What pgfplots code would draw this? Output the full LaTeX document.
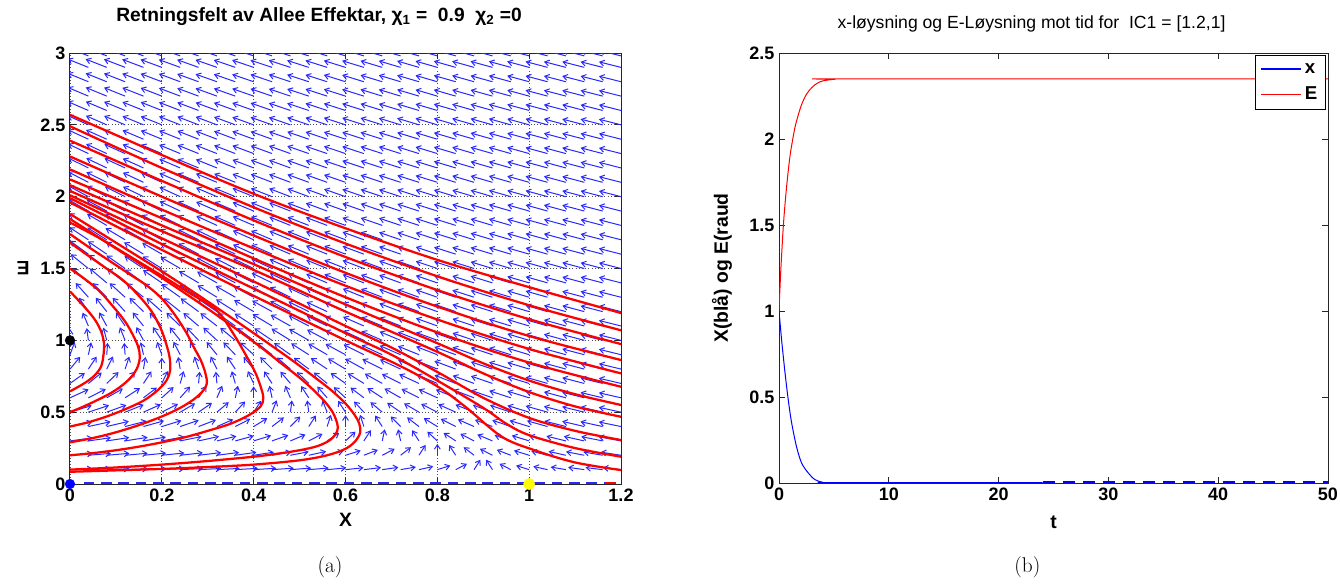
\documentclass[border=0pt]{standalone}
\usepackage{fontspec}
\usepackage{pgfplots}
\usepackage{pgfplotstable}
\pgfplotsset{compat=1.18}
\usetikzlibrary{arrows.meta}
\newfontfamily\hv{Liberation Sans}
\definecolor{qblue}{RGB}{40,40,255}
\definecolor{mred}{RGB}{255,0,0}
\definecolor{myel}{RGB}{255,255,0}

% direction field: rows of E, column g = dE-component, f0..f30 = dx-component at x = 0,0.04,...,1.2
\pgfplotstableread{
E g f0 f1 f2 f3 f4 f5 f6 f7 f8 f9 f10 f11 f12 f13 f14 f15 f16 f17 f18 f19 f20 f21 f22 f23 f24 f25 f26 f27 f28 f29 f30
0.1 0.0995 0.9 0.86 0.82 0.78 0.74 0.7 0.66 0.62 0.58 0.54 0.5 0.46 0.42 0.38 0.34 0.3 0.26 0.22 0.18 0.14 0.1 0.06 0.02 -0.02 -0.06 -0.1 -0.14 -0.18 -0.22 -0.26 -0.3
0.2 0.198 0.8 0.76 0.72 0.68 0.64 0.6 0.56 0.52 0.48 0.44 0.4 0.36 0.32 0.28 0.24 0.2 0.16 0.12 0.08 0.04 0 -0.04 -0.08 -0.12 -0.16 -0.2 -0.24 -0.28 -0.32 -0.36 -0.4
0.3 0.2955 0.7 0.66 0.62 0.58 0.54 0.5 0.46 0.42 0.38 0.34 0.3 0.26 0.22 0.18 0.14 0.1 0.06 0.02 -0.02 -0.06 -0.1 -0.14 -0.18 -0.22 -0.26 -0.3 -0.34 -0.38 -0.42 -0.46 -0.5
0.4 0.392 0.6 0.56 0.52 0.48 0.44 0.4 0.36 0.32 0.28 0.24 0.2 0.16 0.12 0.08 0.04 0 -0.04 -0.08 -0.12 -0.16 -0.2 -0.24 -0.28 -0.32 -0.36 -0.4 -0.44 -0.48 -0.52 -0.56 -0.6
0.5 0.4875 0.5 0.46 0.42 0.38 0.34 0.3 0.26 0.22 0.18 0.14 0.1 0.06 0.02 -0.02 -0.06 -0.1 -0.14 -0.18 -0.22 -0.26 -0.3 -0.34 -0.38 -0.42 -0.46 -0.5 -0.54 -0.58 -0.62 -0.66 -0.7
0.6 0.582 0.4 0.36 0.32 0.28 0.24 0.2 0.16 0.12 0.08 0.04 0 -0.04 -0.08 -0.12 -0.16 -0.2 -0.24 -0.28 -0.32 -0.36 -0.4 -0.44 -0.48 -0.52 -0.56 -0.6 -0.64 -0.68 -0.72 -0.76 -0.8
0.7 0.6755 0.3 0.26 0.22 0.18 0.14 0.1 0.06 0.02 -0.02 -0.06 -0.1 -0.14 -0.18 -0.22 -0.26 -0.3 -0.34 -0.38 -0.42 -0.46 -0.5 -0.54 -0.58 -0.62 -0.66 -0.7 -0.74 -0.78 -0.82 -0.86 -0.9
0.8 0.768 0.2 0.16 0.12 0.08 0.04 0 -0.04 -0.08 -0.12 -0.16 -0.2 -0.24 -0.28 -0.32 -0.36 -0.4 -0.44 -0.48 -0.52 -0.56 -0.6 -0.64 -0.68 -0.72 -0.76 -0.8 -0.84 -0.88 -0.92 -0.96 -1
0.9 0.8595 0.1 0.06 0.02 -0.02 -0.06 -0.1 -0.14 -0.18 -0.22 -0.26 -0.3 -0.34 -0.38 -0.42 -0.46 -0.5 -0.54 -0.58 -0.62 -0.66 -0.7 -0.74 -0.78 -0.82 -0.86 -0.9 -0.94 -0.98 -1.02 -1.06 -1.1
1.0 0.95 0 -0.04 -0.08 -0.12 -0.16 -0.2 -0.24 -0.28 -0.32 -0.36 -0.4 -0.44 -0.48 -0.52 -0.56 -0.6 -0.64 -0.68 -0.72 -0.76 -0.8 -0.84 -0.88 -0.92 -0.96 -1 -1.04 -1.08 -1.12 -1.16 -1.2
1.1 1.0395 -0.1 -0.14 -0.18 -0.22 -0.26 -0.3 -0.34 -0.38 -0.42 -0.46 -0.5 -0.54 -0.58 -0.62 -0.66 -0.7 -0.74 -0.78 -0.82 -0.86 -0.9 -0.94 -0.98 -1.02 -1.06 -1.1 -1.14 -1.18 -1.22 -1.26 -1.3
1.2 1.128 -0.2 -0.24 -0.28 -0.32 -0.36 -0.4 -0.44 -0.48 -0.52 -0.56 -0.6 -0.64 -0.68 -0.72 -0.76 -0.8 -0.84 -0.88 -0.92 -0.96 -1 -1.04 -1.08 -1.12 -1.16 -1.2 -1.24 -1.28 -1.32 -1.36 -1.4
1.3 1.2155 -0.3 -0.34 -0.38 -0.42 -0.46 -0.5 -0.54 -0.58 -0.62 -0.66 -0.7 -0.74 -0.78 -0.82 -0.86 -0.9 -0.94 -0.98 -1.02 -1.06 -1.1 -1.14 -1.18 -1.22 -1.26 -1.3 -1.34 -1.38 -1.42 -1.46 -1.5
1.4 1.302 -0.4 -0.44 -0.48 -0.52 -0.56 -0.6 -0.64 -0.68 -0.72 -0.76 -0.8 -0.84 -0.88 -0.92 -0.96 -1 -1.04 -1.08 -1.12 -1.16 -1.2 -1.24 -1.28 -1.32 -1.36 -1.4 -1.44 -1.48 -1.52 -1.56 -1.6
1.5 1.3875 -0.5 -0.54 -0.58 -0.62 -0.66 -0.7 -0.74 -0.78 -0.82 -0.86 -0.9 -0.94 -0.98 -1.02 -1.06 -1.1 -1.14 -1.18 -1.22 -1.26 -1.3 -1.34 -1.38 -1.42 -1.46 -1.5 -1.54 -1.58 -1.62 -1.66 -1.7
1.6 1.472 -0.6 -0.64 -0.68 -0.72 -0.76 -0.8 -0.84 -0.88 -0.92 -0.96 -1 -1.04 -1.08 -1.12 -1.16 -1.2 -1.24 -1.28 -1.32 -1.36 -1.4 -1.44 -1.48 -1.52 -1.56 -1.6 -1.64 -1.68 -1.72 -1.76 -1.8
1.7 1.5555 -0.7 -0.74 -0.78 -0.82 -0.86 -0.9 -0.94 -0.98 -1.02 -1.06 -1.1 -1.14 -1.18 -1.22 -1.26 -1.3 -1.34 -1.38 -1.42 -1.46 -1.5 -1.54 -1.58 -1.62 -1.66 -1.7 -1.74 -1.78 -1.82 -1.86 -1.9
1.8 1.638 -0.8 -0.84 -0.88 -0.92 -0.96 -1 -1.04 -1.08 -1.12 -1.16 -1.2 -1.24 -1.28 -1.32 -1.36 -1.4 -1.44 -1.48 -1.52 -1.56 -1.6 -1.64 -1.68 -1.72 -1.76 -1.8 -1.84 -1.88 -1.92 -1.96 -2
1.9 1.7195 -0.9 -0.94 -0.98 -1.02 -1.06 -1.1 -1.14 -1.18 -1.22 -1.26 -1.3 -1.34 -1.38 -1.42 -1.46 -1.5 -1.54 -1.58 -1.62 -1.66 -1.7 -1.74 -1.78 -1.82 -1.86 -1.9 -1.94 -1.98 -2.02 -2.06 -2.1
2.0 1.8 -1 -1.04 -1.08 -1.12 -1.16 -1.2 -1.24 -1.28 -1.32 -1.36 -1.4 -1.44 -1.48 -1.52 -1.56 -1.6 -1.64 -1.68 -1.72 -1.76 -1.8 -1.84 -1.88 -1.92 -1.96 -2 -2.04 -2.08 -2.12 -2.16 -2.2
2.1 1.8795 -1.1 -1.14 -1.18 -1.22 -1.26 -1.3 -1.34 -1.38 -1.42 -1.46 -1.5 -1.54 -1.58 -1.62 -1.66 -1.7 -1.74 -1.78 -1.82 -1.86 -1.9 -1.94 -1.98 -2.02 -2.06 -2.1 -2.14 -2.18 -2.22 -2.26 -2.3
2.2 1.958 -1.2 -1.24 -1.28 -1.32 -1.36 -1.4 -1.44 -1.48 -1.52 -1.56 -1.6 -1.64 -1.68 -1.72 -1.76 -1.8 -1.84 -1.88 -1.92 -1.96 -2 -2.04 -2.08 -2.12 -2.16 -2.2 -2.24 -2.28 -2.32 -2.36 -2.4
2.3 2.0355 -1.3 -1.34 -1.38 -1.42 -1.46 -1.5 -1.54 -1.58 -1.62 -1.66 -1.7 -1.74 -1.78 -1.82 -1.86 -1.9 -1.94 -1.98 -2.02 -2.06 -2.1 -2.14 -2.18 -2.22 -2.26 -2.3 -2.34 -2.38 -2.42 -2.46 -2.5
2.4 2.112 -1.4 -1.44 -1.48 -1.52 -1.56 -1.6 -1.64 -1.68 -1.72 -1.76 -1.8 -1.84 -1.88 -1.92 -1.96 -2 -2.04 -2.08 -2.12 -2.16 -2.2 -2.24 -2.28 -2.32 -2.36 -2.4 -2.44 -2.48 -2.52 -2.56 -2.6
2.5 2.1875 -1.5 -1.54 -1.58 -1.62 -1.66 -1.7 -1.74 -1.78 -1.82 -1.86 -1.9 -1.94 -1.98 -2.02 -2.06 -2.1 -2.14 -2.18 -2.22 -2.26 -2.3 -2.34 -2.38 -2.42 -2.46 -2.5 -2.54 -2.58 -2.62 -2.66 -2.7
2.6 2.262 -1.6 -1.64 -1.68 -1.72 -1.76 -1.8 -1.84 -1.88 -1.92 -1.96 -2 -2.04 -2.08 -2.12 -2.16 -2.2 -2.24 -2.28 -2.32 -2.36 -2.4 -2.44 -2.48 -2.52 -2.56 -2.6 -2.64 -2.68 -2.72 -2.76 -2.8
2.7 2.3355 -1.7 -1.74 -1.78 -1.82 -1.86 -1.9 -1.94 -1.98 -2.02 -2.06 -2.1 -2.14 -2.18 -2.22 -2.26 -2.3 -2.34 -2.38 -2.42 -2.46 -2.5 -2.54 -2.58 -2.62 -2.66 -2.7 -2.74 -2.78 -2.82 -2.86 -2.9
2.8 2.408 -1.8 -1.84 -1.88 -1.92 -1.96 -2 -2.04 -2.08 -2.12 -2.16 -2.2 -2.24 -2.28 -2.32 -2.36 -2.4 -2.44 -2.48 -2.52 -2.56 -2.6 -2.64 -2.68 -2.72 -2.76 -2.8 -2.84 -2.88 -2.92 -2.96 -3
2.9 2.4795 -1.9 -1.94 -1.98 -2.02 -2.06 -2.1 -2.14 -2.18 -2.22 -2.26 -2.3 -2.34 -2.38 -2.42 -2.46 -2.5 -2.54 -2.58 -2.62 -2.66 -2.7 -2.74 -2.78 -2.82 -2.86 -2.9 -2.94 -2.98 -3.02 -3.06 -3.1
2.98 2.536 -1.98 -2.02 -2.06 -2.1 -2.14 -2.18 -2.22 -2.26 -2.3 -2.34 -2.38 -2.42 -2.46 -2.5 -2.54 -2.58 -2.62 -2.66 -2.7 -2.74 -2.78 -2.82 -2.86 -2.9 -2.94 -2.98 -3.02 -3.06 -3.1 -3.14 -3.18
}\field

\pgfplotsset{
  traj/.style={mred, line width=1.7pt, smooth, tension=0.55},
  mlab/.style={
    scale only axis,
    axis line style={black!85, line width=0.75pt},
    tick style={black!85, line width=0.75pt},
    major tick length=4.5pt,
    tick align=inside,
    xtick pos=both, ytick pos=both,
    /pgf/number format/assume math mode=true,
    tick label style={font=\hv\bfseries\fontsize{13.5}{15}\selectfont},
    label style={font=\hv\bfseries\fontsize{14.5}{16}\selectfont},
  },
}

\begin{document}
\begin{tikzpicture}
\path[use as bounding box] (-52.5pt,-74.25pt) rectangle (952.5pt,363pt);

%================ (a) =================
\begin{axis}[mlab,
  at={(0pt,0pt)}, anchor=south west,
  width=413.25pt, height=323.25pt,
  xmin=0, xmax=1.2, ymin=0, ymax=3,
  xtick={0,0.2,0.4,0.6,0.8,1,1.2},
  ytick={0,0.5,1,1.5,2,2.5,3},
  grid=major,
  major grid style={black!70, dotted, line width=0.6pt},
  title={Retningsfelt av Allee Effektar, χ\textsubscript{1} = \ 0.9 \ χ\textsubscript{2} =0},
  title style={font=\hv\bfseries\fontsize{14.4}{16}\selectfont, at={(axis description cs:0.452,1.065)}, anchor=center},
  xlabel={X},
  xlabel style={at={(axis description cs:0.5,-0.0835)}, anchor=center},
  ylabel={E},
  ylabel style={at={(axis description cs:-0.085,0.5)}, anchor=center, rotate=90},
]
% quiver field
\pgfplotsinvokeforeach{0,...,30}{%
 \addplot[qblue, line width=0.75pt, -{Straight Barb[length=3.3pt,width=4.4pt]},
   quiver={u={0.158*min(1,0.5+abs(\thisrow{f#1}))*\thisrow{f#1}/sqrt(10.21*\thisrow{f#1}*\thisrow{f#1}+\thisrow{g}*\thisrow{g})},
           v={0.158*min(1,0.5+abs(\thisrow{f#1}))*\thisrow{g}/sqrt(10.21*\thisrow{f#1}*\thisrow{f#1}+\thisrow{g}*\thisrow{g})}}]
   table[x expr={0.04*#1}, y=E] {\field};
}
% arrows along E = 0
\addplot[qblue, line width=1.8pt, dash pattern=on 8pt off 5pt] coordinates {(0.03,0.008) (1.2,0.008)};

% trajectories: upper family
\addplot[traj] coordinates {(0,2.57)(0.2,2.29)(0.4,2.02)(0.6,1.78)(0.8,1.56)(1.0,1.37)(1.2,1.19)};
\addplot[traj] coordinates {(0,2.49)(0.2,2.2)(0.4,1.926)(0.6,1.674)(0.8,1.446)(1.0,1.244)(1.2,1.07)};
\addplot[traj] coordinates {(0,2.39)(0.2,2.11)(0.4,1.835)(0.6,1.58)(0.8,1.35)(1.0,1.147)(1.2,0.974)};
\addplot[traj] coordinates {(0,2.28)(0.2,2.0)(0.4,1.73)(0.6,1.47)(0.8,1.235)(1.0,1.03)(1.2,0.863)};
\addplot[traj] coordinates {(0,2.19)(0.2,1.91)(0.4,1.64)(0.6,1.38)(0.8,1.145)(1.0,0.94)(1.2,0.77)};
\addplot[traj] coordinates {(0,2.12)(0.2,1.85)(0.4,1.57)(0.6,1.30)(0.8,1.055)(1.0,0.845)(1.2,0.677)};
\addplot[traj] coordinates {(0,2.08)(0.2,1.80)(0.4,1.53)(0.6,1.25)(0.8,0.98)(0.9,0.84)(1.0,0.72)(1.1,0.625)(1.2,0.55)};
\addplot[traj] coordinates {(0,2.04)(0.2,1.76)(0.4,1.49)(0.6,1.2)(0.8,0.92)(0.9,0.77)(1.0,0.64)(1.1,0.54)(1.2,0.468)};
\addplot[traj] coordinates {(0,2.01)(0.2,1.71)(0.4,1.41)(0.6,1.1)(0.7,0.95)(0.8,0.78)(0.9,0.6)(1.0,0.46)(1.1,0.37)(1.2,0.306)};
\addplot[traj] coordinates {(0,1.99)(0.2,1.67)(0.4,1.36)(0.6,1.05)(0.7,0.9)(0.8,0.72)(0.9,0.53)(0.95,0.42)(1.0,0.34)(1.1,0.25)(1.2,0.19)};
\addplot[traj] coordinates {(0,1.96)(0.2,1.63)(0.4,1.31)(0.6,1.0)(0.72,0.82)(0.8,0.68)(0.86,0.54)(0.94,0.33)(1.01,0.237)(1.1,0.15)(1.2,0.097)};
% trajectories: C-shaped family
\addplot[traj] coordinates {(0,0.645)(0.02,0.68)(0.04,0.72)(0.055,0.76)(0.068,0.82)(0.073,0.9)(0.074,0.98)(0.068,1.06)(0.055,1.14)(0.035,1.22)(0.012,1.30)(0,1.34)};
\addplot[traj] coordinates {(0,0.5)(0.03,0.54)(0.06,0.585)(0.09,0.635)(0.115,0.69)(0.135,0.75)(0.148,0.82)(0.152,0.89)(0.148,0.96)(0.135,1.05)(0.118,1.14)(0.09,1.25)(0.065,1.34)(0.035,1.42)(0,1.5)};
\addplot[traj] coordinates {(0,0.4)(0.04,0.43)(0.08,0.47)(0.12,0.52)(0.16,0.58)(0.19,0.65)(0.21,0.72)(0.218,0.79)(0.217,0.88)(0.21,0.97)(0.198,1.08)(0.178,1.2)(0.15,1.31)(0.115,1.42)(0.075,1.51)(0.035,1.6)(0,1.68)};
\addplot[traj] coordinates {(0,0.29)(0.05,0.32)(0.1,0.36)(0.15,0.41)(0.2,0.47)(0.24,0.53)(0.27,0.59)(0.29,0.65)(0.298,0.7)(0.295,0.77)(0.285,0.86)(0.27,0.95)(0.254,1.05)(0.23,1.17)(0.203,1.28)(0.17,1.375)(0.13,1.46)(0.09,1.545)(0.045,1.64)(0,1.74)};
\addplot[traj] coordinates {(0,0.2)(0.05,0.215)(0.1,0.235)(0.15,0.26)(0.2,0.29)(0.25,0.325)(0.3,0.37)(0.35,0.42)(0.39,0.48)(0.415,0.54)(0.421,0.6)(0.415,0.68)(0.403,0.78)(0.385,0.886)(0.355,1.05)(0.319,1.21)(0.26,1.33)(0.2,1.45)(0.13,1.585)(0.065,1.71)(0,1.82)};
\addplot[traj] coordinates {(0,0.1)(0.1,0.115)(0.2,0.135)(0.3,0.16)(0.4,0.19)(0.45,0.21)(0.5,0.235)(0.54,0.265)(0.568,0.31)(0.582,0.37)(0.582,0.42)(0.572,0.5)(0.553,0.58)(0.53,0.655)(0.5,0.74)(0.46,0.84)(0.4,0.99)(0.3,1.22)(0.2,1.435)(0.1,1.64)(0,1.845)};
\addplot[traj] coordinates {(0,0.085)(0.1,0.095)(0.2,0.105)(0.3,0.118)(0.4,0.135)(0.5,0.165)(0.56,0.2)(0.6,0.245)(0.622,0.3)(0.632,0.36)(0.63,0.42)(0.62,0.48)(0.6,0.56)(0.57,0.65)(0.53,0.75)(0.48,0.87)(0.4,1.05)(0.3,1.27)(0.2,1.48)(0.1,1.68)(0,1.88)};
\addplot[mred, line width=1.6pt] coordinates {(1.165,0.006)(1.19,0.006)};

% equilibria
\addplot[only marks, mark=*, mark size=3.6pt, black] coordinates {(0,1)};
\addplot[only marks, mark=*, mark size=3.6pt, blue, mark options={fill=blue}] coordinates {(0,0)};
\addplot[only marks, mark=*, mark size=4.2pt, myel, mark options={fill=myel, draw=myel}] coordinates {(1,0)};
\end{axis}

%================ (b) =================
\begin{axis}[mlab,
  at={(531.75pt,0.75pt)}, anchor=south west,
  width=411.75pt, height=322.5pt,
  xmin=0, xmax=50, ymin=0, ymax=2.5,
  xtick={0,10,20,30,40,50},
  ytick={0,0.5,1,1.5,2,2.5},
  title={x-løysning og E-Løysning mot tid for\ \ IC1 = [1.2,1]},
  title style={font=\hv\fontsize{13.2}{15}\selectfont, at={(axis description cs:0.46,1.049)}, anchor=center},
  xlabel={t},
  xlabel style={at={(axis description cs:0.5,-0.0907)}, anchor=center},
  ylabel={X(blå) og E(raud},
  ylabel style={at={(axis description cs:-0.104,0.5)}, anchor=center},
  legend style={at={(0.996,0.996)}, anchor=north east, draw=black, line width=0.75pt,
    font=\hv\bfseries\fontsize{14}{16}\selectfont, inner xsep=4pt, inner ysep=4pt, row sep=5pt,
    cells={anchor=west}},
  legend image code/.code={\draw[#1, line width=1.2pt] (0pt,0pt) -- (30pt,0pt);},
]
\addplot[blue, line width=0.75pt, smooth, tension=0.5] coordinates {(0,1.0)(0.24,0.83)(0.55,0.64)(0.85,0.48)(1.15,0.35)(1.6,0.21)(2.06,0.116)(2.67,0.058)(3.27,0.02)(4.0,0.004)(5,0.002)(24,0.002)};
\addlegendentry{x}
\addplot[mred, line width=0.75pt, smooth, tension=0.5] coordinates {(0,1.0)(0.1,1.15)(0.2,1.28)(0.4,1.5)(0.6,1.66)(0.8,1.79)(1.0,1.9)(1.2,1.98)(1.5,2.08)(2.0,2.19)(2.5,2.26)(3.0,2.3)(3.5,2.325)(4.0,2.338)(5,2.347)(6,2.35)(50,2.35)};
\addlegendentry{E}
\addplot[blue, line width=1.5pt, dash pattern=on 9pt off 6pt, forget plot] coordinates {(24,0.006)(50,0.006)};
\end{axis}

\node[font=\fontsize{16}{19}\selectfont] at (195pt,-62.25pt) {(a)};
\node[font=\fontsize{16}{19}\selectfont] at (718pt,-62.25pt) {(b)};
\end{tikzpicture}
\end{document}
